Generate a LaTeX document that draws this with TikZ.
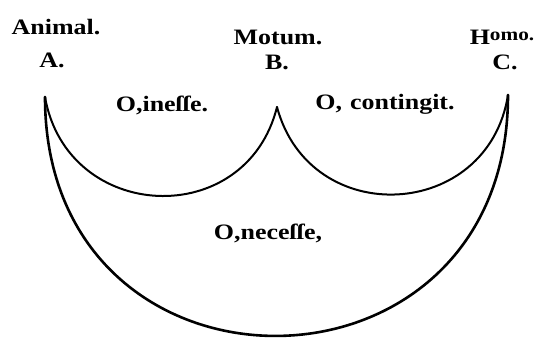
\documentclass[tikz,border=0pt]{standalone}
\usepackage{fontspec}
\setmainfont[FakeStretch=1.18]{Liberation Serif}
\begin{document}
\begin{tikzpicture}[x=1pt,y=1pt,
  lbl/.style={anchor=base,inner sep=0pt,font=\fontsize{22}{24}\selectfont\bfseries},
  smallarc/.style={line width=2pt,line cap=round},
  bigarc/.style={line width=2.6pt,line cap=round}]
\useasboundingbox (0,0) rectangle (547,342);
\coordinate (A) at (45,245);
\coordinate (B) at (277,235);
\coordinate (C) at (508,247);
\node[lbl] (animal) at (56,307) {Animal.};
\node[lbl] (la) at (52,274) {A.};
\node[lbl] (motum) at (278,297) {Motum.};
\node[lbl] (lb) at (277,272) {B.};
\node[lbl] (homo) at (502,297) {H\raisebox{4pt}{\fontsize{18}{18}\selectfont omo.}};
\node[lbl] (lc) at (505,272) {C.};
\node[lbl] (inesse) at (162,230) {O,ineſſe.};
\node[lbl] (contingit) at (385,232) {O,\hspace{8pt}contingit.};
\node[lbl] (necesse) at (268,102) {O,neceſſe,};
\draw[smallarc] (A) to[out=-80,in=-104,looseness=1.41] (B);
\draw[smallarc] (B) to[out=-75,in=-99,looseness=1.41] (C);
\draw[bigarc] (A) to[out=-90,in=-90,looseness=1.765] (C);
\end{tikzpicture}
\end{document}
